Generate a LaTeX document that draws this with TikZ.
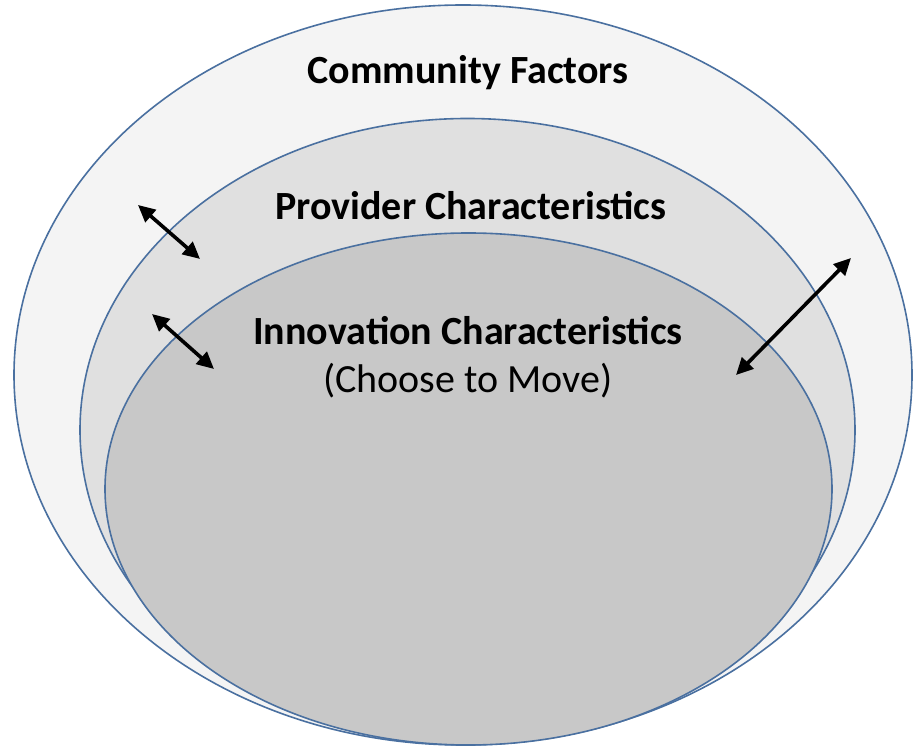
\documentclass[tikz,border=0pt]{standalone}
\usepackage{fontspec}
\setmainfont{Carlito}
\usetikzlibrary{shapes.geometric,arrows.meta,positioning}
\definecolor{rimblue}{RGB}{74,112,160}
\definecolor{outerfill}{RGB}{244,244,244}
\definecolor{midfill}{RGB}{224,224,224}
\definecolor{innerfill}{RGB}{200,200,200}
\tikzset{node distance=50pt, auto,
  ring/.style={ellipse, draw=rimblue, line width=1.6pt, inner sep=0pt},
  heading/.style={font=\fontsize{40}{44}\selectfont\bfseries},
  subheading/.style={font=\fontsize{40}{44}\selectfont},
  twoway/.style={{Triangle[length=17pt,width=16pt]}-{Triangle[length=17pt,width=16pt]}, line width=3.6pt, black}}

\begin{document}
\begin{tikzpicture}[x=1pt,y=1pt]
                \useasboundingbox (0,0) rectangle (913,747);
                \node (community) [ring, fill=outerfill, minimum width=898pt, minimum height=740pt] at (463,372) {};
                \node (provider)  [ring, fill=midfill, minimum width=775pt, minimum height=623pt] at (467.5,317) {};
                \node (innovation) [ring, fill=innerfill, minimum width=727pt, minimum height=512pt] at (468.5,258) {};
                \node (tcommunity) [heading] at (468,674) {Community Factors};
                \node (tprovider)  [heading] at (471,541) {Provider Characteristics};
                \node (tinnovation) [heading] at (468,416) {Innovation Characteristics};
                \node (tchoose) [subheading, below of=tinnovation] {(Choose to Move)};
                \coordinate (a1) at (138,542);
                \coordinate (b1) at (200,488);
                \coordinate (a2) at (152,433);
                \coordinate (b2) at (214,378);
                \coordinate (a3) at (851,489);
                \coordinate (b3) at (736,372);
                \draw[twoway] (a1) -- (b1);
                \draw[twoway] (a2) -- (b2);
                \draw[twoway] (a3) -- (b3);
              \end{tikzpicture}
\end{document}
